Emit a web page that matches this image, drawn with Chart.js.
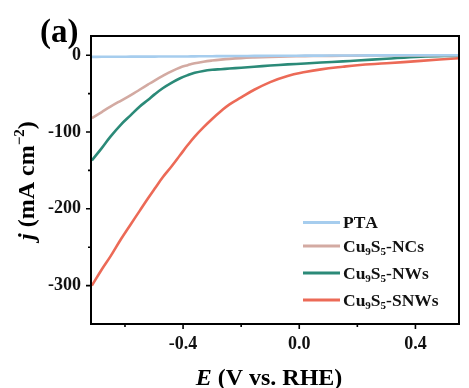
<!DOCTYPE html>
<html>
<head>
<meta charset="utf-8">
<script src="https://cdn.jsdelivr.net/npm/chart.js@4.4.0/dist/chart.umd.min.js"></script>
<style>
  html, body { margin: 0; padding: 0; background: #ffffff; }
  #wrap { width: 469px; height: 388px; }
</style>
</head>
<body>
<div id="wrap"><canvas id="c" width="469" height="388"></canvas></div>
<script>
// ---- data ----
const potential = [-0.714, -0.68, -0.65, -0.613, -0.58, -0.55, -0.52, -0.498, -0.47, -0.44, -0.41, -0.384, -0.36, -0.33, -0.3, -0.27, -0.24, -0.2, -0.155, -0.1, -0.04, 0.02, 0.075, 0.15, 0.2, 0.3, 0.418, 0.548];
const ptaCurrent  = [-2.2, -2.1, -2.0, -2.0, -1.9, -1.9, -1.8, -1.8, -1.7, -1.7, -1.6, -1.6, -1.5, -1.4, -1.3, -1.2, -1.1, -1.0, -0.9, -0.8, -0.7, -0.6, -0.5, -0.4, -0.3, -0.2, -0.1, 0];
const ncsCurrent  = [-82, -74, -67, -59, -52, -45, -38, -33, -27, -21, -16, -13, -10.5, -8.5, -7, -5.8, -4.8, -3.8, -3, -2.2, -1.6, -1.2, -1, -0.8, -0.6, -0.4, -0.2, 0];
const nwsCurrent  = [-137, -121, -106, -90, -78, -67, -58, -51, -43, -36, -30, -26, -23, -20.5, -19, -18.2, -17.4, -16.3, -15, -13.5, -12, -10.8, -9.6, -8, -7, -4.6, -2, -0.5];
const snwsCurrent = [-300, -279, -262, -239, -220, -203, -186, -174, -159, -145, -130, -117, -106, -94, -83, -73, -64, -55, -45, -35, -27, -22, -18.5, -15, -13, -10.5, -7.4, -4];
const seriesNames = ['PTA', 'Cu₉S₅-NCs', 'Cu₉S₅-NWs', 'Cu₉S₅-SNWs'];
const seriesColors = ['#a6cdee', '#d3aaa2', '#2b8a78', '#ec6a57'];
const xTickValues = [-0.4, 0.0, 0.4];
const xMinorValues = [-0.6, -0.2, 0.2];
const yTickValues = [0, -100, -200, -300];
const yMinorValues = [-50, -150, -250];
const panelLabel = '(a)';
const xTitle = ['E', ' (V vs. RHE)'];
const yTitle = ['j', ' (mA cm', '−2', ')'];

const FONT = '"Liberation Serif", "Times New Roman", serif';
const currents = [ptaCurrent, ncsCurrent, nwsCurrent, snwsCurrent];

const datasets = seriesNames.map((name, i) => ({
  label: name,
  data: potential.map((e, k) => ({ x: e, y: currents[i][k] })),
  borderColor: seriesColors[i],
  backgroundColor: seriesColors[i],
  borderWidth: 2.6,
  pointRadius: 0,
  tension: 0.4,
  fill: false
}));

const subMap = { '₀':'0','₁':'1','₂':'2','₃':'3','₄':'4','₅':'5','₆':'6','₇':'7','₈':'8','₉':'9' };

function drawRichLabel(ctx, text, x, y, size) {
  let cx = x;
  for (const ch of text) {
    if (subMap[ch]) {
      ctx.font = 'bold ' + Math.round(size * 0.62) + 'px ' + FONT;
      ctx.fillText(subMap[ch], cx, y + size * 0.22);
      cx += ctx.measureText(subMap[ch]).width;
    } else {
      ctx.font = 'bold ' + size + 'px ' + FONT;
      ctx.fillText(ch, cx, y);
      cx += ctx.measureText(ch).width;
    }
  }
}

const decor = {
  id: 'decor',
  afterDatasetsDraw(chart) {
    const { ctx, chartArea: a, scales: { x, y } } = chart;
    ctx.save();
    // frame
    ctx.strokeStyle = '#000';
    ctx.lineWidth = 2;
    ctx.strokeRect(a.left, a.top, a.right - a.left, a.bottom - a.top);
    // ticks
    ctx.lineWidth = 1.6;
    ctx.beginPath();
    xTickValues.forEach(v => { const p = x.getPixelForValue(v); ctx.moveTo(p, a.bottom); ctx.lineTo(p, a.bottom + 5); });
    xMinorValues.forEach(v => { const p = x.getPixelForValue(v); ctx.moveTo(p, a.bottom); ctx.lineTo(p, a.bottom + 3); });
    yTickValues.forEach(v => { const p = y.getPixelForValue(v); ctx.moveTo(a.left, p); ctx.lineTo(a.left - 5, p); });
    yMinorValues.forEach(v => { const p = y.getPixelForValue(v); ctx.moveTo(a.left, p); ctx.lineTo(a.left - 3, p); });
    ctx.stroke();

    // legend
    const rows = [222.5, 246, 273, 300];
    ctx.fillStyle = '#111';
    ctx.textAlign = 'left';
    ctx.textBaseline = 'alphabetic';
    chart.data.datasets.forEach((ds, i) => {
      ctx.strokeStyle = ds.borderColor;
      ctx.lineWidth = 3;
      ctx.beginPath();
      ctx.moveTo(303, rows[i]);
      ctx.lineTo(340, rows[i]);
      ctx.stroke();
      drawRichLabel(ctx, ds.label, 343, rows[i] + 5.5, 17.5);
    });

    // panel label
    ctx.font = 'bold 33px ' + FONT;
    ctx.fillStyle = '#000';
    ctx.fillText(panelLabel, 40, 42);

    // x title
    const xs = 24;
    ctx.font = 'bold italic ' + xs + 'px ' + FONT;
    const w0 = ctx.measureText(xTitle[0]).width;
    ctx.font = 'bold ' + xs + 'px ' + FONT;
    const w1 = ctx.measureText(xTitle[1]).width;
    let sx = (a.left + a.right) / 2 - 6 - (w0 + w1) / 2;
    ctx.font = 'bold italic ' + xs + 'px ' + FONT;
    ctx.fillText(xTitle[0], sx, 385);
    ctx.font = 'bold ' + xs + 'px ' + FONT;
    ctx.fillText(xTitle[1], sx + w0, 385);

    // y title (rotated)
    ctx.save();
    ctx.translate(34, 240);
    ctx.rotate(-Math.PI / 2);
    let cx = 0;
    ctx.font = 'bold italic 24px ' + FONT;
    ctx.fillText(yTitle[0], cx, 0); cx += ctx.measureText(yTitle[0]).width;
    ctx.font = 'bold 24px ' + FONT;
    ctx.fillText(yTitle[1], cx, 0); cx += ctx.measureText(yTitle[1]).width;
    ctx.font = 'bold 15px ' + FONT;
    ctx.fillText(yTitle[2], cx, -10); cx += ctx.measureText(yTitle[2]).width;
    ctx.font = 'bold 24px ' + FONT;
    ctx.fillText(yTitle[3], cx, 0);
    ctx.restore();

    ctx.restore();
  }
};

new Chart(document.getElementById('c'), {
  type: 'line',
  data: { datasets },
  options: {
    responsive: false,
    animation: false,
    devicePixelRatio: 1,
    layout: { padding: { top: 36, right: 10, left: 0, bottom: 0 } },
    plugins: { legend: { display: false }, tooltip: { enabled: false } },
    scales: {
      x: {
        type: 'linear',
        min: -0.717,
        max: 0.55,
        afterBuildTicks: s => { s.ticks = xTickValues.map(v => ({ value: v })); },
        afterFit: s => { s.height = 64; },
        grid: { display: false, drawTicks: false },
        border: { display: false },
        ticks: {
          color: '#111',
          font: { family: FONT, size: 18, weight: 'bold' },
          padding: 10,
          maxRotation: 0,
          autoSkip: false,
          callback: v => Number(v).toFixed(1)
        }
      },
      y: {
        type: 'linear',
        min: -350,
        max: 25,
        afterBuildTicks: s => { s.ticks = yTickValues.map(v => ({ value: v })); },
        afterFit: s => { s.width = 91; },
        grid: { display: false, drawTicks: false },
        border: { display: false },
        ticks: {
          color: '#111',
          font: { family: FONT, size: 18, weight: 'bold' },
          padding: 10,
          autoSkip: false,
          callback: v => String(v)
        }
      }
    }
  },
  plugins: [decor]
});
</script>
</body>
</html>
